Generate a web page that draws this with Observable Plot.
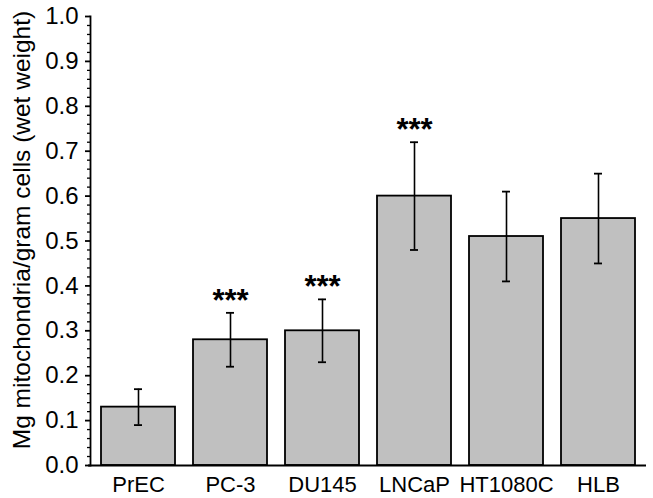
<!DOCTYPE html>
<html>
<head>
<meta charset="utf-8">
<script src="https://cdn.jsdelivr.net/npm/d3@7"></script>
<script src="https://cdn.jsdelivr.net/npm/@observablehq/plot@0.6"></script>
<style>
  html, body { margin: 0; padding: 0; background: #fff; }
  svg { font-family: "Liberation Sans", Arial, sans-serif; }
</style>
</head>
<body>
<div id="chart"></div>
<script>
const categories = ["PrEC", "PC-3", "DU145", "LNCaP", "HT1080C", "HLB"];
const values = [0.13, 0.28, 0.30, 0.60, 0.51, 0.55];
const errLow = [0.09, 0.22, 0.23, 0.48, 0.41, 0.45];
const errHigh = [0.17, 0.34, 0.37, 0.72, 0.61, 0.65];
const significance = ["", "***", "***", "***", "", ""];
const yLabel = "Mg mitochondria/gram cells (wet weight)";
const majorTicks = d3.range(0, 11).map(i => i / 10);
const minorTicks = d3.range(0, 51).map(i => i / 50).filter((d, i) => i % 5 !== 0);

const data = categories.map((c, i) => ({
  cell: c, value: values[i], lo: errLow[i], hi: errHigh[i], sig: significance[i]
}));

const chart = Plot.plot({
  width: 653,
  height: 498,
  marginLeft: 90,
  marginRight: 7,
  marginTop: 16,
  marginBottom: 33,
  style: { fontFamily: "Liberation Sans, Arial, sans-serif", background: "#fff", overflow: "visible" },
  x: { domain: categories, paddingInner: 0.2, paddingOuter: 0.1, label: null },
  y: { domain: [0, 1], label: null },
  marks: [
    Plot.barY(data, { x: "cell", y: "value", fill: "#c0c0c0", stroke: "#000", strokeWidth: 1.8 }),
    Plot.ruleX(data, { x: "cell", y1: "lo", y2: "hi", stroke: "#000", strokeWidth: 1.6 }),
    Plot.tickY(data, { x: "cell", y: "lo", stroke: "#000", strokeWidth: 1.8, insetLeft: 33, insetRight: 33 }),
    Plot.tickY(data, { x: "cell", y: "hi", stroke: "#000", strokeWidth: 1.8, insetLeft: 33, insetRight: 33 }),
    Plot.text(data.filter(d => d.sig), { x: "cell", y: "hi", text: "sig", dy: -12, fontSize: 31, fontWeight: "bold", fill: "#000" }),
    Plot.ruleY([0], { stroke: "#000", strokeWidth: 1.8, insetLeft: -2 }),
    Plot.frame({ anchor: "left", stroke: "#000", strokeWidth: 1.8 }),
    Plot.axisY({ ticks: minorTicks, tickSize: 3, tickFormat: () => "", label: null, stroke: "#000", strokeWidth: 1.3 }),
    Plot.axisY({ ticks: majorTicks, tickSize: 5, tickPadding: 7, tickFormat: d3.format(".1f"), fontSize: 24, fill: "#000", stroke: "#000", strokeWidth: 1.8, label: null }),
    Plot.axisX({ tickSize: 0, tickPadding: 11, fontSize: 22, fill: "#000", label: null }),
    Plot.text([yLabel], { frameAnchor: "left", rotate: -90, dx: -68, dy: -11, fontSize: 24.5, fill: "#000", textAnchor: "middle" })
  ]
});
document.getElementById("chart").appendChild(chart);
</script>
</body>
</html>
